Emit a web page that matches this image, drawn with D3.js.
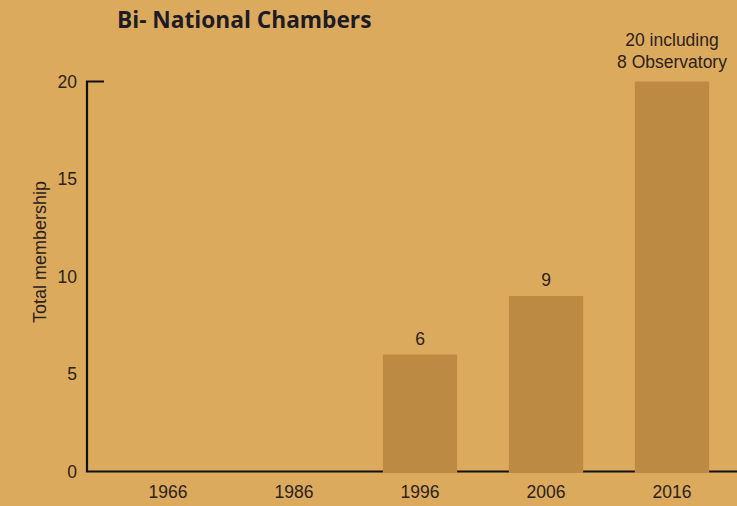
<!DOCTYPE html>
<html>
<head>
<meta charset="utf-8">
<script src="https://cdn.jsdelivr.net/npm/d3@7"></script>
<style>
  html, body { margin: 0; padding: 0; background: #dcaa5d; }
  svg { display: block; }
  text { font-family: "Liberation Sans", Arial, sans-serif; fill: #2b2220; }
</style>
</head>
<body>
<svg id="chart" width="737" height="506"></svg>
<script>
// data
const years = ["1966", "1986", "1996", "2006", "2016"];
const members = [0, 0, 6, 9, 20];
const barLabels = ["", "", "6", "9", "20 including\n8 Observatory"];
const yTicks = [0, 5, 10, 15, 20];

const width = 737;
const height = 506;
const svg = d3.select("#chart");

svg.append("rect")
    .attr("width", width)
    .attr("height", height)
    .attr("fill", "#dcaa5d");

const x = d3.scaleBand()
    .domain(years)
    .range([105, 735])
    .paddingInner(0.41)
    .paddingOuter(0.205);

const y = d3.scaleLinear()
    .domain([0, 20])
    .range([471.5, 81.5]);

const axisX = 87;

// title
svg.append("text")
    .attr("x", 117)
    .attr("y", 28)
    .attr("font-weight", "bold")
    .attr("font-size", "22.7px")
    .style("fill", "#1d1c26")
    .style("font-family", "'Open Sans', sans-serif")
    .text("Bi- National Chambers");

// axis lines (bars are drawn over the baseline)
svg.append("path")
    .attr("d", `M${axisX + 17},${y(20)}H${axisX}V${y(0)}H${width}`)
    .attr("fill", "none")
    .attr("stroke", "#111")
    .attr("stroke-width", 2.2);

// y tick labels
svg.append("g").selectAll("text")
    .data(yTicks)
    .enter().append("text")
    .attr("x", 77)
    .attr("y", d => y(d))
    .attr("dy", "0.35em")
    .attr("text-anchor", "end")
    .attr("font-size", "17.5px")
    .text(d => d);

// y axis title
svg.append("text")
    .attr("transform", "translate(46,252) rotate(-90)")
    .attr("text-anchor", "middle")
    .attr("font-size", "18px")
    .text("Total membership");

// bars
svg.append("g").selectAll("rect")
    .data(members)
    .enter().append("rect")
    .attr("x", (d, i) => x(years[i]))
    .attr("y", d => y(d))
    .attr("width", x.bandwidth())
    .attr("height", d => d > 0 ? y(0) - y(d) + 1.5 : 0)
    .attr("fill", "#bd8a44");

// bar value labels
members.forEach((d, i) => {
    if (!barLabels[i]) return;
    const lines = barLabels[i].split("\n");
    const cx = x(years[i]) + x.bandwidth() / 2;
    const gap = lines.length > 1 ? 14 : 10;
    const t = svg.append("text")
        .attr("text-anchor", "middle")
        .attr("font-size", "17.5px");
    lines.forEach((line, j) => {
        t.append("tspan")
            .attr("x", cx)
            .attr("y", y(d) - gap - (lines.length - 1 - j) * 22)
            .text(line);
    });
});

// x labels
svg.append("g").selectAll("text")
    .data(years)
    .enter().append("text")
    .attr("x", d => x(d) + x.bandwidth() / 2)
    .attr("y", 498)
    .attr("text-anchor", "middle")
    .attr("font-size", "17.5px")
    .text(d => d);
</script>
</body>
</html>
